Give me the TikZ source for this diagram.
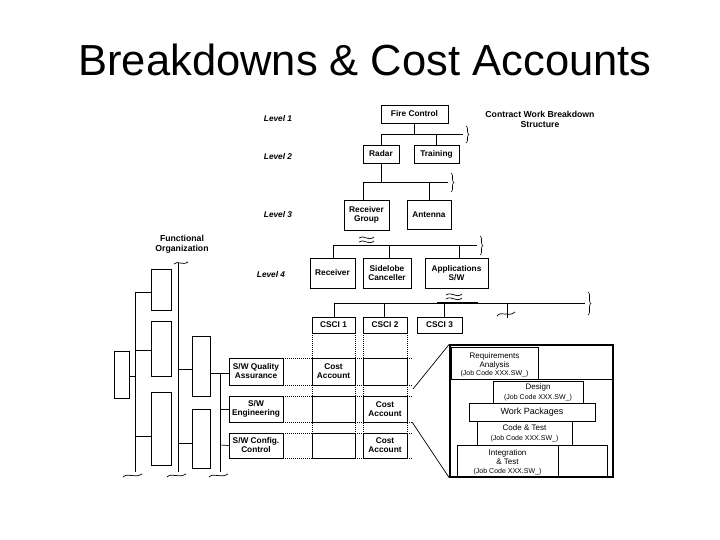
\documentclass[tikz,border=0pt]{standalone}
\usepackage{fontspec}
\setmainfont{Liberation Sans}
\usetikzlibrary{decorations.pathreplacing}
\begin{document}
\begin{tikzpicture}[x=1pt,y=-1pt,
 bx/.style={draw,line width=0.8pt,inner sep=0pt,font=\bfseries\fontsize{8.3}{9}\selectfont,align=center},
 lvl/.style={font=\bfseries\itshape\fontsize{8.3}{9}\selectfont},
 lbl/.style={font=\bfseries\fontsize{8.7}{10}\selectfont,align=center},
 dot/.style={densely dotted,line width=1pt},
 ln/.style={line width=0.7pt},
 brc/.style={decorate,decoration={brace,amplitude=3pt},line width=0.6pt},
 fb/.style={draw,line width=0.9pt},
 jb/.style={font=\fontsize{7}{7.5}\selectfont}]
\useasboundingbox (0,0) rectangle (720,540);
\node[font=\fontsize{43.5}{46}\selectfont] (title) at (365,60) {Breakdowns \& Cost Accounts};
% levels
\node[lvl] (l1) at (278,119) {Level 1};
\node[lvl] (l2) at (278,157) {Level 2};
\node[lvl] (l3) at (278,215) {Level 3};
\node[lvl] (l4) at (271,275) {Level 4};
\node[lbl] (cwbs) at (540,119) {Contract Work Breakdown\\Structure};
% WBS boxes
\node[bx,minimum width=67pt,minimum height=18pt] (fc) at (414.5,114) {Fire Control};
\node[bx,minimum width=36pt,minimum height=18pt] (radar) at (381,154) {Radar};
\node[bx,minimum width=45pt,minimum height=18pt] (train) at (436.5,154) {Training};
\node[bx,minimum width=45pt,minimum height=30pt] (rg) at (366.5,215) {Receiver\\Group};
\node[bx,minimum width=44pt,minimum height=29pt] (ant) at (429,214.5) {Antenna};
\node[bx,minimum width=45pt,minimum height=30pt] (rec) at (332.5,273) {Receiver};
\node[bx,minimum width=48pt,minimum height=30pt] (sc) at (387,273) {Sidelobe\\Canceller};
\node[bx,minimum width=63pt,minimum height=30pt] (app) at (456.5,273) {Applications\\S/W};
\node[bx,minimum width=43pt,minimum height=16pt] (c1) at (333.5,325) {CSCI 1};
\node[bx,minimum width=44pt,minimum height=16pt] (c2) at (385,325) {CSCI 2};
\node[bx,minimum width=45pt,minimum height=16pt] (c3) at (439.5,325) {CSCI 3};
% connectors
\coordinate (h1a) at (381,134); \coordinate (h1b) at (463,134);
\draw[ln] (fc.south) -- (fc.south|-h1a);
\draw[ln] (h1a) -- (h1b);
\draw[ln] (h1a) -- (radar.north-|h1a);
\draw[ln] (train.north|-h1a) -- (train.north);
\draw[brc] (466,126) -- (466,143);
\coordinate (h2a) at (363,182); \coordinate (h2b) at (448,182);
\draw[ln] (radar.south) -- (radar.south|-h2a);
\draw[ln] (h2a) -- (h2b);
\draw[ln] (h2a) -- (rg.north-|h2a);
\draw[ln] (ant.north|-h2a) -- (ant.north);
\draw[brc] (451,173) -- (451,192);
\draw[ln] (359,238) .. controls (364,234) and (368,242) .. (374,237);
\draw[ln] (359,242) .. controls (364,238) and (368,246) .. (374,241);
\coordinate (h3a) at (333,245); \coordinate (h3b) at (477,245);
\draw[ln] (h3a) -- (h3b);
\draw[ln] (h3a) -- (rec.north-|h3a);
\draw[ln] (389,245) -- (389,258);
\draw[ln] (459,245) -- (459,258);
\draw[brc] (480,236) -- (480,255);
\draw[ln] (446,295) .. controls (452,291) and (456,299) .. (462,294);
\draw[ln] (446,299) .. controls (452,295) and (456,303) .. (462,298);
\coordinate (h4a) at (334,303); \coordinate (h4b) at (585,303);
\draw[ln] (h4a) -- (h4b);
\draw[line width=1.4pt] (437,303) -- (478,303);
\draw[ln] (h4a) -- (c1.north-|h4a);
\draw[ln] (384,303) -- (384,317);
\draw[ln] (444,303) -- (444,317);
\draw[ln] (507,303) -- (507,318);
\draw[ln] (497,316) .. controls (502,310) and (508,318) .. (515,312);
\draw[brc] (588,292) -- (588,315);
% functional rows
\node[bx,minimum width=54pt,minimum height=27pt] (qa) at (256,371.5) {S/W Quality\\Assurance};
\node[bx,minimum width=54pt,minimum height=26pt] (eng) at (256,409) {S/W\\Engineering};
\node[bx,minimum width=54pt,minimum height=25pt] (cfg) at (256,445.5) {S/W Config.\\Control};
\node[bx,minimum width=43pt,minimum height=27pt] (a11) at (333.5,371.5) {Cost\\Account};
\node[bx,minimum width=44pt,minimum height=27pt] (a12) at (385,371.5) {};
\node[bx,minimum width=43pt,minimum height=26pt] (a21) at (333.5,409) {};
\node[bx,minimum width=44pt,minimum height=26pt] (a22) at (385,409) {Cost\\Account};
\node[bx,minimum width=43pt,minimum height=25pt] (a31) at (333.5,445.5) {};
\node[bx,minimum width=44pt,minimum height=25pt] (a32) at (385,445.5) {Cost\\Account};
% dotted grid
\foreach \x in {312,355,363,407} \draw[dot] (\x,333) -- (\x,458);
\foreach \y in {358,385,396,422,433,458} \draw[dot] (285,\y) -- (413,\y);
% functional organization
\node[lbl] (fo) at (182,244) {Functional\\Organization};
\draw[ln] (174,264) .. controls (178,260) and (182,266) .. (188,262);
\node[fb,minimum width=20pt,minimum height=41pt,inner sep=0pt] (fa) at (161,289.5) {};
\node[fb,minimum width=20pt,minimum height=55pt,inner sep=0pt] (fbb) at (161,348.5) {};
\node[fb,minimum width=20pt,minimum height=73pt,inner sep=0pt] (fc2) at (161,428.5) {};
\node[fb,minimum width=15pt,minimum height=47pt,inner sep=0pt] (fl) at (121.5,374.5) {};
\node[fb,minimum width=18pt,minimum height=60pt,inner sep=0pt] (fd) at (201,366) {};
\node[fb,minimum width=18pt,minimum height=59pt,inner sep=0pt] (fe) at (201,438.5) {};
\draw[ln] (135,292) -- (135,472);
\draw[ln] (135,292) -- (fa.west|-135,292);
\draw[ln] (135,350) -- (fbb.west|-135,350);
\draw[ln] (135,436) -- (fc2.west|-135,436);
\draw[ln] (fl.east|-129,376) -- (135,376);
\draw[ln] (178,263) -- (178,472);
\draw[ln] (178,369) -- (fd.west|-178,369);
\draw[ln] (178,443) -- (fe.west|-178,443);
\draw[ln] (220,373) -- (220,472);
\draw[ln] (fd.east|-210,373) -- (229,373);
\draw[ln] (220,409) -- (eng.west);
\draw[ln] (220,445) -- (cfg.west);
\foreach \x in {133,177,219} \draw[ln] (\x-10,477) .. controls (\x-5,472) and (\x+1,479) .. (\x+9,474);
% detail panel
\node[draw,line width=1.5pt,minimum width=163pt,minimum height=132pt,inner sep=0pt] (panel) at (531.5,411) {};
\draw[ln] (413,389) -- (panel.north west);
\draw[ln] (412,422) -- (panel.south west);
\draw[line width=1pt] (451,379) -- (613,379);
\node[draw,line width=0.6pt,minimum width=87pt,minimum height=32pt,inner sep=0pt] (req) at (494.5,363) {};
\node[align=center,font=\fontsize{8}{8.5}\selectfont] (reqt) at (494.5,361) {Requirements\\Analysis};
\node[jb] (reqj) at (494.5,374) {(Job Code XXX.SW\_)};
\node[draw,line width=0.6pt,minimum width=90pt,minimum height=22pt,inner sep=0pt] (des) at (538,392) {};
\node[font=\fontsize{8}{8.5}\selectfont] (dest) at (538,387) {Design};
\node[jb] (desj) at (538,397.5) {(Job Code XXX.SW\_)};
\node[draw,line width=0.6pt,minimum width=126pt,minimum height=18pt,inner sep=0pt,font=\fontsize{9}{10}\selectfont] (wp) at (532,412) {Work Packages};
\node[draw,line width=0.6pt,minimum width=95pt,minimum height=24pt,inner sep=0pt] (ct) at (524.5,433) {};
\node[font=\fontsize{8}{8.5}\selectfont] (ctt) at (524.5,428) {Code \& Test};
\node[jb] (ctj) at (524.5,438.5) {(Job Code XXX.SW\_)};
\node[draw,line width=0.6pt,minimum width=101pt,minimum height=32pt,inner sep=0pt] (it) at (507.5,461) {};
\node[font=\fontsize{8}{9}\selectfont,align=center] (itt) at (507.5,457) {Integration\\\& Test};
\node[jb] (itj) at (507.5,472) {(Job Code XXX.SW\_)};
\node[draw,line width=0.8pt,minimum width=49pt,minimum height=32pt,inner sep=0pt] (ix) at (582.5,461) {};
\end{tikzpicture}
\end{document}
